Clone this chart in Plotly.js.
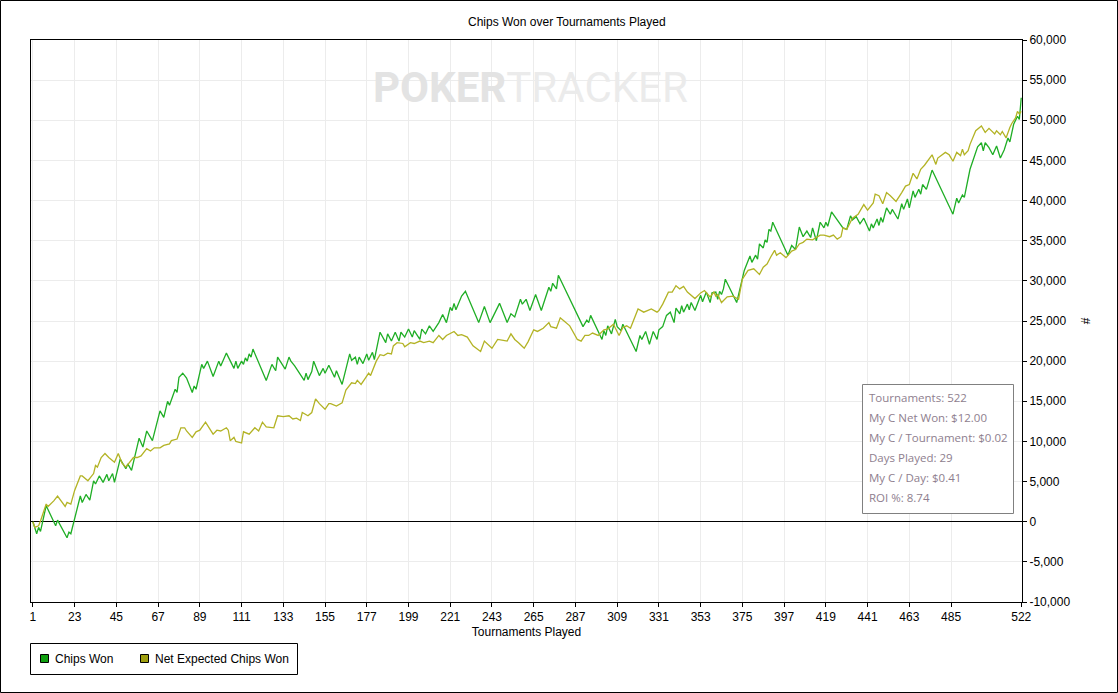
<!DOCTYPE html>
<html>
<head>
<meta charset="utf-8">
<script src="https://cdn.plot.ly/plotly-3.0.1.min.js"></script>
<style>
  body { margin: 0; background: #fff; }
  #chart { width: 1118px; height: 693px; }
</style>
</head>
<body>
<div id="chart"></div>
<script>
// tournaments / chips won
var chipsX = [1,3,4,5,8,13,14,19,20,21,26,27,29,31,33,34,36,38,40,41,43,44,47,50,51,53,57,59,61,64,68,70,72,73,76,77,78,80,82,85,86,87,90,91,93,96,99,100,103,107,108,109,111,112,113,114,115,116,117,124,127,129,130,134,136,137,139,144,145,146,148,149,152,154,155,157,160,161,164,168,169,171,172,173,175,177,178,180,181,184,187,188,190,192,194,195,197,199,201,202,205,206,208,210,212,215,217,219,221,222,223,224,227,229,236,239,242,247,251,253,255,258,259,261,263,266,269,273,274,275,277,278,291,293,294,295,301,302,303,304,306,308,309,311,312,319,321,322,324,326,328,330,331,333,335,337,339,340,342,343,344,346,347,348,350,353,354,356,358,359,361,362,363,364,365,366,372,376,379,380,382,383,384,386,387,388,389,390,391,399,401,403,405,407,409,411,412,414,416,418,419,420,422,428,430,432,433,435,437,439,442,443,444,446,447,448,449,451,453,454,457,459,460,462,463,465,466,468,469,470,472,473,475,486,488,489,491,492,495,499,501,502,503,505,507,509,511,513,515,516,518,520,521,522];
var chipsY = [0,-1500,-700,-1200,2000,-500,200,-2000,-1300,-1500,3200,2400,3400,2700,5100,4700,5700,4900,5900,5100,6000,4900,7800,6600,7200,6400,10400,9300,11300,10100,13800,13000,15000,14500,16500,16100,18000,18500,17900,16100,16900,16500,19600,19100,20000,18100,20000,19400,21000,19100,20000,19100,20000,19600,20400,20000,20900,20500,21500,17600,19600,18800,20500,19000,20500,20000,19400,17600,18500,17700,18700,20000,18200,19100,18500,19500,18000,18800,17100,20900,20100,20500,19600,20500,19700,20900,20100,21100,20200,23600,22300,23400,22500,23600,22500,23600,23000,24000,23000,23800,22700,24000,23400,24400,23700,24800,25800,24800,26700,26300,27200,26400,28100,28700,24800,26800,24800,27200,24800,25900,25500,27700,27100,27700,26300,28300,26300,29200,28700,29700,29000,30700,24300,25100,24800,25700,22700,23800,23200,24400,23400,25200,24300,23800,24600,21200,23200,22700,23700,22100,23700,22700,23900,24300,25700,26100,24800,26600,25900,26900,26100,27100,26400,27300,26300,28200,27400,28600,27300,28500,28600,27700,28700,28300,29000,30200,27300,31300,33100,32300,33200,32700,34600,34100,35100,34800,36400,36200,37300,33200,34400,33900,36700,35500,36200,35400,36600,35000,37300,36600,37300,36800,38600,36600,36400,38100,37600,38000,37100,37800,36200,37100,36600,37700,36900,37900,37300,39100,38300,38900,37700,39600,38900,40200,39100,41200,40400,41400,40800,42000,41400,42200,43800,38300,40300,39700,40700,40400,43900,46700,47200,46200,47200,46600,45700,46800,45300,46300,47800,47300,49500,50500,50100,52800];

// tournaments / net expected chips won
var xevX = [1,2,4,5,8,9,12,14,18,19,21,23,26,27,30,33,34,35,37,39,41,44,46,48,50,54,56,58,61,63,65,68,70,73,74,77,79,81,82,85,87,89,92,94,96,98,100,103,104,105,107,108,111,112,115,118,120,122,124,128,130,133,136,138,140,142,143,146,148,150,152,155,157,158,161,164,166,169,171,172,174,176,178,179,181,182,184,186,188,190,191,193,196,197,200,202,205,207,210,212,215,217,219,223,225,227,230,233,237,239,243,246,249,251,253,255,257,260,262,265,267,270,273,274,277,279,281,284,288,290,292,294,296,299,302,304,307,310,312,314,316,318,320,323,325,327,330,331,333,336,338,340,342,344,346,350,353,355,358,360,361,362,364,367,370,373,375,378,381,384,386,388,390,392,393,395,397,398,401,403,405,407,409,412,414,416,418,421,423,425,427,428,430,433,436,439,441,444,445,447,449,451,453,456,459,461,463,465,467,469,471,472,474,475,477,478,482,484,486,488,490,491,492,494,495,498,501,503,505,508,509,511,512,514,516,517,519,520,521,522];
var xevY = [0,-700,-500,100,2200,1900,2600,3200,1900,2400,2200,3900,5700,5700,5100,6000,7000,6800,8000,8500,8000,7400,8500,7300,6800,8000,8000,8200,9100,8800,9200,9200,9500,9700,10100,10300,11700,11700,11300,10500,11200,11400,12400,11700,10900,11400,11300,11700,11400,10100,10500,10000,9800,11200,10900,11700,11300,12400,11800,11700,13200,13100,13200,12800,12900,12600,13600,13200,13600,15300,14700,14000,14700,14700,14400,14800,16400,17300,17200,17600,17100,17800,18500,18200,19400,20000,20800,20700,21000,20900,21900,22300,22200,21800,22300,22200,22500,22300,22500,22300,23200,22700,23200,23700,23200,23300,23000,21900,21200,22500,21600,22700,22600,22500,23400,22700,22300,21600,22400,23900,23700,24100,24800,24300,24100,25400,25000,24400,22700,22500,23200,23200,23500,23200,23900,24000,24600,23200,24200,24400,24100,25200,26500,26100,26300,26500,26100,26300,27100,28600,28600,29400,29000,29300,28600,27800,28500,28800,28000,28600,28100,28300,27300,28000,28100,27700,30200,31300,31500,30800,31700,32100,33000,33800,33200,33500,33100,32900,33700,33900,34600,34800,35200,35100,35400,35700,35700,35500,35700,35200,35500,36600,36400,37800,38300,39500,38800,39700,40800,40600,39600,41000,40600,39900,41000,41800,42000,43400,42700,43900,44400,44700,45300,45700,44500,45300,46000,45700,44900,46000,45600,46400,45700,46200,47000,48700,49300,48500,49000,48300,48700,48200,48600,47800,49100,49600,50300,51100,50800,51100];

var xTicks = [1,23,45,67,89,111,133,155,177,199,221,243,265,287,309,331,353,375,397,419,441,463,485,522];
var yTicks = [-10000,-5000,0,5000,10000,15000,20000,25000,30000,35000,40000,45000,50000,55000,60000];
var yTickText = ['-10,000','-5,000','0','5,000','10,000','15,000','20,000','25,000','30,000','35,000','40,000','45,000','50,000','55,000','60,000'];

var seriesNames = ['Chips Won', 'Net Expected Chips Won'];
var lineColors = ['#1fae25', '#b3b325'];
var swatchColors = ['#10a010', '#a0a010'];

var statLines = ['Tournaments: 522', 'My C Net Won: $12.00', 'My C / Tournament: $0.02',
                 'Days Played: 29', 'My C / Day: $0.41', 'ROI %: 8.74'];

var trace_1 = {
  x: chipsX, y: chipsY, name: seriesNames[0],
  type: 'scatter', mode: 'lines',
  line: {color: lineColors[0], width: 1.3}
};
var trace_2 = {
  x: xevX, y: xevY, name: seriesNames[1],
  type: 'scatter', mode: 'lines',
  line: {color: lineColors[1], width: 1.3}
};

// paper coords: plot area is 991 x 562 px, starting at (31, 40)
var px = function (p) { return (p - 31) / 991; };
var py = function (p) { return (602 - p) / 562; };

var shapes = [
  // outer frame
  {type: 'rect', xref: 'paper', yref: 'paper', x0: px(0.5), x1: px(1117.5), y0: py(692.5), y1: py(0.5),
   line: {color: '#000', width: 1}},
  // stats box
  {type: 'rect', xref: 'paper', yref: 'paper', x0: px(862.5), x1: px(1013.5), y0: py(513.5), y1: py(384.5),
   fillcolor: '#fff', line: {color: '#808080', width: 1}, layer: 'above'},
  // legend box
  {type: 'rect', xref: 'paper', yref: 'paper', x0: px(30.5), x1: px(297.5), y0: py(674.5), y1: py(643.5),
   line: {color: '#000', width: 1}}
];

var annotations = [
  // watermark
  {xref: 'paper', yref: 'paper', x: px(530), y: py(88), xanchor: 'center', yanchor: 'middle',
   showarrow: false,
   text: '<b>POKER</b><span style="color:#ebebeb">TRACKER</span>',
   font: {family: 'Roboto', size: 42, color: '#e3e3e3'}}
];

var swatchX = [40, 140];
var labelX = [53, 153];
for (var i = 0; i < seriesNames.length; i++) {
  shapes.push({type: 'rect', xref: 'paper', yref: 'paper',
    x0: px(swatchX[i] + 0.5), x1: px(swatchX[i] + 8.5), y0: py(662.5), y1: py(654.5),
    fillcolor: swatchColors[i], line: {color: '#000', width: 1}});
  annotations.push({xref: 'paper', yref: 'paper', x: px(labelX[i]), y: py(659),
    xanchor: 'left', yanchor: 'middle', showarrow: false, text: seriesNames[i],
    font: {family: 'Liberation Sans, Arial', size: 12, color: '#000'}});
}

for (var j = 0; j < statLines.length; j++) {
  annotations.push({xref: 'paper', yref: 'paper', x: px(867), y: py(397 + j * 20),
    xanchor: 'left', yanchor: 'middle', showarrow: false, text: statLines[j],
    font: {family: 'Open Sans', size: 11.5, color: '#8e7e8e'}});
}

var layout = {
  width: 1118,
  height: 693,
  margin: {l: 31, r: 96, t: 40, b: 91, pad: 0},
  paper_bgcolor: '#fff',
  plot_bgcolor: '#fff',
  font: {family: 'Liberation Sans, Arial', size: 12, color: '#000'},
  hovermode: false,
  showlegend: false,
  title: {text: 'Chips Won over Tournaments Played', xref: 'container', x: 0.507,
          yref: 'container', y: 1 - 22 / 693, yanchor: 'middle',
          font: {size: 12, color: '#000'}},
  xaxis: {
    range: [0, 522.4],
    tickvals: xTicks,
    ticktext: xTicks.map(String),
    ticks: 'outside', ticklen: 4, tickcolor: '#000',
    showline: true, linecolor: '#000', linewidth: 1, mirror: true,
    showgrid: true, gridcolor: '#ececec',
    zeroline: false,
    tickfont: {size: 12},
    title: {text: 'Tournaments Played', standoff: 4, font: {size: 12}}
  },
  yaxis: {
    side: 'right',
    range: [-10000, 60000],
    tickvals: yTicks,
    ticktext: yTickText,
    ticks: 'outside', ticklen: 4, tickcolor: '#000',
    showline: true, linecolor: '#000', linewidth: 1, mirror: true,
    showgrid: true, gridcolor: '#ececec',
    zeroline: true, zerolinecolor: '#000', zerolinewidth: 1,
    tickfont: {size: 12},
    title: {text: '#', standoff: 12, font: {size: 12}}
  },
  shapes: shapes,
  annotations: annotations
};

Plotly.newPlot('chart', [trace_1, trace_2], layout, {displayModeBar: false, staticPlot: true});
</script>
</body>
</html>
